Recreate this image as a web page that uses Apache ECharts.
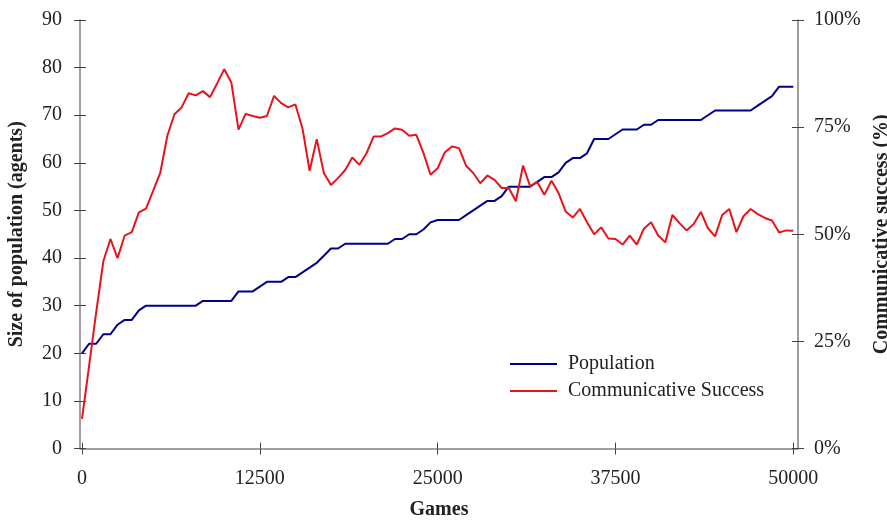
<!DOCTYPE html>
<html>
<head>
<meta charset="utf-8">
<script src="https://cdn.jsdelivr.net/npm/echarts@6/dist/echarts.min.js"></script>
<style>
html,body{margin:0;padding:0;background:#fff;}
#chart{width:887px;height:522px;}
</style>
</head>
<body>
<div id="chart"></div>
<script>
// Sample points: one every 500 games from 0 to 50000
var games = Array.from({length: 101}, function (_, i) { return i * 500; });

var population = [
  20, 22, 22, 24, 24, 26, 27, 27, 29, 30,
  30, 30, 30, 30, 30, 30, 30, 31, 31, 31,
  31, 31, 33, 33, 33, 34, 35, 35, 35, 36,
  36, 37, 38, 39, 40.5, 42, 42, 43, 43, 43,
  43, 43, 43, 43, 44, 44, 45, 45, 46, 47.5,
  48, 48, 48, 48, 49, 50, 51, 52, 52, 53,
  55, 55, 55, 55, 56, 57, 57, 58, 60, 61,
  61, 62, 65, 65, 65, 66, 67, 67, 67, 68,
  68, 69, 69, 69, 69, 69, 69, 69, 70, 71,
  71, 71, 71, 71, 71, 72, 73, 74, 76, 76,
  76
];

var success = [
  6.9, 19.3, 31.8, 43.7, 48.9, 44.4, 49.7, 50.5, 55.1, 56.0,
  60.1, 64.3, 73.0, 78.0, 79.6, 82.9, 82.4, 83.4, 82.0, 85.2,
  88.5, 85.4, 74.4, 78.1, 77.6, 77.2, 77.6, 82.3, 80.6, 79.6,
  80.3, 74.7, 64.8, 72.2, 64.3, 61.5, 63.1, 65.0, 67.9, 66.2,
  68.9, 72.8, 72.8, 73.6, 74.7, 74.4, 73.0, 73.2, 69.0, 63.9,
  65.4, 69.1, 70.5, 70.1, 66.0, 64.3, 61.9, 63.7, 62.7, 60.8,
  60.8, 57.7, 66.0, 61.2, 62.2, 59.2, 62.5, 59.6, 55.3, 53.9,
  55.9, 52.8, 50.0, 51.6, 49.0, 48.9, 47.6, 49.7, 47.6, 51.3,
  52.8, 49.7, 48.1, 54.5, 52.6, 50.9, 52.4, 55.2, 51.4, 49.5,
  54.5, 55.9, 50.5, 54.2, 55.9, 54.7, 53.8, 53.2, 50.4, 50.9,
  50.8
];

var xTicks = [0, 12500, 25000, 37500, 50000];
var leftTicks = [0, 10, 20, 30, 40, 50, 60, 70, 80, 90];
var rightTicks = [0, 25, 50, 75, 100];

var FONT = '"Liberation Serif", "Times New Roman", serif';
var axisLineStyle = {color: '#808080', width: 1.5};
var tickStyle = {color: '#444', width: 1};
var labelStyle = {color: '#222', fontFamily: FONT, fontSize: 20};

function pairs(vals) {
  return games.map(function (g, i) { return [g, vals[i]]; });
}

var chart = echarts.init(document.getElementById('chart'), null, {renderer: 'canvas'});

// x range padded a little on both sides (the plot frame is slightly wider than the data range)
var xBase = {
  type: 'value',
  min: -140,
  max: 50330,
  splitLine: {show: false}
};
var yLeftBase = {
  type: 'value',
  position: 'left',
  min: leftTicks[0],
  max: leftTicks[leftTicks.length - 1],
  interval: leftTicks[1] - leftTicks[0],
  splitLine: {show: false}
};
var yRightBase = {
  type: 'value',
  position: 'right',
  min: rightTicks[0],
  max: rightTicks[rightTicks.length - 1],
  interval: rightTicks[1] - rightTicks[0],
  splitLine: {show: false}
};

chart.setOption({
  animation: false,
  backgroundColor: '#fff',
  grid: {left: 80, right: 89, top: 20, bottom: 73.5, containLabel: false, outerBoundsMode: 'none'},
  legend: {
    orient: 'vertical',
    left: 505,
    top: 349,
    itemWidth: 47,
    itemHeight: 2,
    itemGap: 7,
    icon: 'rect',
    textStyle: {color: '#222', fontFamily: FONT, fontSize: 20, padding: [0, 0, 0, 6]},
    data: ['Population', 'Communicative Success']
  },
  xAxis: [
    Object.assign({}, xBase, {
      position: 'bottom',
      name: 'Games',
      nameLocation: 'middle',
      nameGap: 51,
      nameTextStyle: {color: '#222', fontFamily: FONT, fontSize: 20, fontWeight: 'bold'},
      axisLine: {show: true, onZero: false, lineStyle: axisLineStyle},
      axisTick: {show: true, inside: false, length: 6, lineStyle: tickStyle, customValues: xTicks},
      axisLabel: Object.assign({margin: 20, customValues: xTicks, formatter: function (v) { return String(v); }}, labelStyle)
    }),
    Object.assign({}, xBase, {
      position: 'bottom',
      axisLine: {show: false, onZero: false},
      axisTick: {show: true, inside: true, length: 6, lineStyle: tickStyle, customValues: xTicks},
      axisLabel: {show: false}
    })
  ],
  yAxis: [
    Object.assign({}, yLeftBase, {
      name: 'Size of population (agents)',
      nameLocation: 'middle',
      nameGap: 53,
      nameRotate: 90,
      nameTextStyle: {color: '#222', fontFamily: FONT, fontSize: 20, fontWeight: 'bold'},
      axisLine: {show: true, onZero: false, lineStyle: axisLineStyle},
      axisTick: {show: true, inside: false, length: 6, lineStyle: tickStyle},
      axisLabel: Object.assign({margin: 18, formatter: function (v) { return String(v); }}, labelStyle)
    }),
    Object.assign({}, yRightBase, {
      name: 'Communicative success (%)',
      nameLocation: 'middle',
      nameGap: 69,
      nameRotate: 90,
      nameTextStyle: {color: '#222', fontFamily: FONT, fontSize: 20, fontWeight: 'bold'},
      axisLine: {show: true, onZero: false, lineStyle: axisLineStyle},
      axisTick: {show: true, inside: false, length: 6, lineStyle: tickStyle},
      axisLabel: Object.assign({margin: 16, formatter: '{value}%'}, labelStyle)
    }),
    Object.assign({}, yLeftBase, {
      axisLine: {show: false, onZero: false},
      axisTick: {show: true, inside: true, length: 6, lineStyle: tickStyle},
      axisLabel: {show: false}
    }),
    Object.assign({}, yRightBase, {
      axisLine: {show: false, onZero: false},
      axisTick: {show: true, inside: true, length: 6, lineStyle: tickStyle},
      axisLabel: {show: false}
    })
  ],
  series: [
    {
      name: 'Population',
      type: 'line',
      xAxisIndex: 0,
      yAxisIndex: 0,
      data: pairs(population),
      showSymbol: false,
      symbol: 'none',
      lineStyle: {color: '#000088', width: 2},
      itemStyle: {color: '#000088'}
    },
    {
      name: 'Communicative Success',
      type: 'line',
      xAxisIndex: 0,
      yAxisIndex: 1,
      data: pairs(success),
      showSymbol: false,
      symbol: 'none',
      lineStyle: {color: '#e8141b', width: 2},
      itemStyle: {color: '#e8141b'}
    }
  ]
});
</script>
</body>
</html>
